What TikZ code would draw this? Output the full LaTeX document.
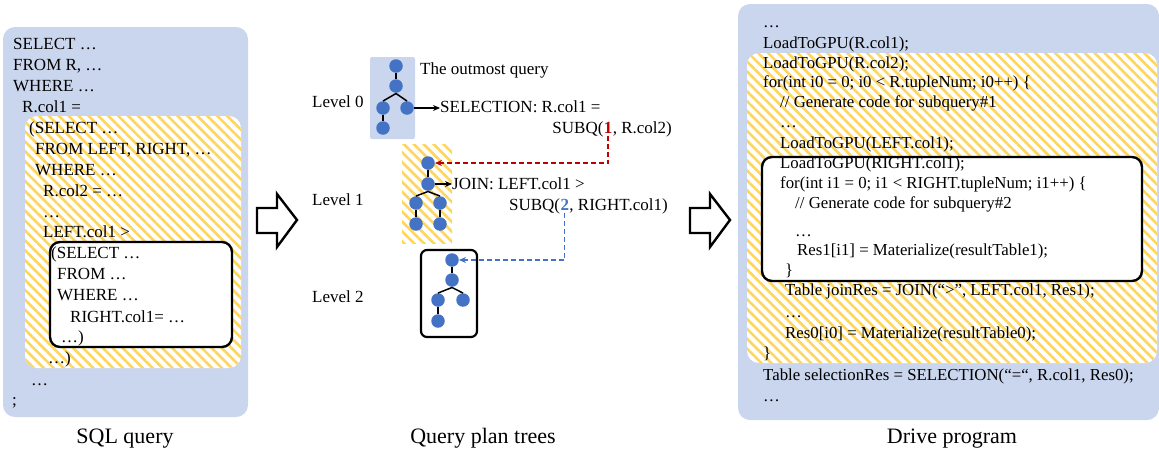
\documentclass[tikz,border=0pt]{standalone}
\usepackage{fontspec}
\setmainfont{Liberation Serif}
\usetikzlibrary{patterns.meta,arrows.meta}
\definecolor{bluebg}{RGB}{202,214,237}
\definecolor{hatch}{RGB}{255,214,92}
\definecolor{treeblue}{RGB}{68,114,196}
\definecolor{darkred}{RGB}{192,0,0}
\tikzset{
  txt/.style={anchor=base west,inner sep=0pt,font=\fontsize{17}{17}\selectfont},
  rtxt/.style={anchor=base west,inner sep=0pt,font=\fontsize{16.8}{17}\selectfont},
  captxt/.style={anchor=base,inner sep=0pt,font=\fontsize{22}{22}\selectfont},
  bluebox/.style={fill=bluebg,draw=none,rounded corners=12pt},
  hatchbox/.style={fill=white,draw=none,rounded corners=12pt},
  hatchfill/.style={pattern={Lines[angle=-45,distance=7pt,line width=2.6pt]},pattern color=hatch},
  blackbox/.style={fill=white,draw=black,line width=2.4pt,rounded corners=10pt},
  tn/.style={circle,fill=treeblue,minimum size=13.5pt,inner sep=0pt},
  te/.style={line width=1.5pt,black},
  blockarrow/.style={draw=black,fill=white,line width=2.4pt,line join=miter},
  ptr/.style={-{Stealth[length=7pt,width=6pt]},line width=1.5pt},
  dptr/.style={line width=1.3pt,dash pattern=on 5pt off 3pt,-{Stealth[length=7pt,width=6pt]}},
}
\begin{document}
\begin{tikzpicture}[x=1pt,y=-1pt]
\useasboundingbox (0,0) rectangle (1159,453);

% ---------- Left: SQL query ----------
\path[bluebox] (3,27) rectangle (248,417);
\path[hatchbox] (25,116) rectangle (241,368);
\path[hatchfill,rounded corners=12pt] (25,116) rectangle (241,368);
\path[blackbox] (50,242) rectangle (232,347);

\node[txt] (l1) at (13,49.5) {SELECT …};
\node[txt] (l2) at (13,70.5) {FROM R, …};
\node[txt] (l3) at (13,91.5) {WHERE …};
\node[txt] (l4) at (22,112.5) {R.col1 =};
\node[txt] (l5) at (29,133.5) {(SELECT …};
\node[txt] (l6) at (35,154.5) {FROM LEFT, RIGHT, …};
\node[txt] (l7) at (35,175.5) {WHERE …};
\node[txt] (l8) at (43,196.5) {R.col2 = …};
\node[txt] (l9) at (43,217) {…};
\node[txt] (l10) at (43,237.5) {LEFT.col1 >};
\node[txt] (l11) at (51,258) {(SELECT …};
\node[txt] (l12) at (57,279) {FROM …};
\node[txt] (l13) at (57,300) {WHERE …};
\node[txt] (l14) at (70,322) {RIGHT.col1= …};
\node[txt] (l15) at (61,342) {…)};
\node[txt] (l16) at (48,363) {…)};
\node[txt] (l17) at (31,385) {…};
\node[txt] (l18) at (12,405) {;};
\node[captxt] (c1) at (125,443) {SQL query};

% ---------- block arrows ----------
\draw[blockarrow] (257,208) -- (277,208) -- (277,194) -- (297,220) -- (277,247) -- (277,233) -- (257,233) -- cycle;
\draw[blockarrow] (690,208) -- (710,208) -- (710,194) -- (730,220) -- (710,247) -- (710,233) -- (690,233) -- cycle;

% ---------- Middle: query plan trees ----------
\node[txt] (lv0) at (312,107.5) {Level 0};
\node[txt] (lv1) at (312,205.5) {Level 1};
\node[txt] (lv2) at (312,302.5) {Level 2};

% Level 0
\path[fill=bluebg,rounded corners=2pt] (370,57) rectangle (415,139);
\node[tn] (a1) at (396,66) {};
\node[tn] (a2) at (396,86) {};
\node[tn] (a3) at (383,108) {};
\node[tn] (a4) at (407,108) {};
\node[tn] (a5) at (383,128) {};
\coordinate (aj) at (396,93.5);
\draw[te] (a1) -- (a2);
\draw[te] (a3.north) -- (aj) -- (a4.north);
\draw[te] (a3) -- (a5);
\node[txt] (toq) at (420,74.5) {The outmost query};
\node[txt] (sel) at (440,112.5) {SELECTION: R.col1 =};
\node[txt,anchor=base east] (s1c) at (672,133.5) {, R.col2)};
\node[txt,anchor=base east,text=darkred,font=\fontsize{17}{17}\selectfont\bfseries] (s1n) at (s1c.base west) {1};
\node[txt,anchor=base east] (s1a) at (s1n.base west) {SUBQ(};
\draw[ptr] (a4.east) -- (sel.west |- a4);

% Level 1
\path[fill=white] (402,144) rectangle (452,243);
\path[hatchfill] (402,144) rectangle (452,243);
\node[tn] (b1) at (428,163) {};
\node[tn] (b2) at (428,184) {};
\node[tn] (b3) at (416,203) {};
\node[tn] (b4) at (440,203) {};
\node[tn] (b5) at (416,224) {};
\node[tn] (b6) at (440,224) {};
\coordinate (bj) at (428,191.5);
\draw[te] (b1) -- (b2);
\draw[te] (b3.north) -- (bj) -- (b4.north);
\draw[te] (b3) -- (b5);
\draw[te] (b4) -- (b6);
\node[txt] (join) at (452,189.5) {JOIN: LEFT.col1 >};
\node[txt,anchor=base east] (s2c) at (668,210.5) {, RIGHT.col1)};
\node[txt,anchor=base east,text=treeblue,font=\fontsize{17}{17}\selectfont\bfseries] (s2n) at (s2c.base west) {2};
\node[txt,anchor=base east] (s2a) at (s2n.base west) {SUBQ(};
\draw[ptr] (b2.east) -- (join.west |- b2);

% Level 2
\path[blackbox,line width=2.2pt,rounded corners=6pt] (421,250) rectangle (477,337);
\node[tn] (c1n) at (452,260) {};
\node[tn] (c2n) at (452,280) {};
\node[tn] (c3n) at (438,300) {};
\node[tn] (c4n) at (463,300) {};
\node[tn] (c5n) at (438,321) {};
\coordinate (cj) at (452,287.5);
\draw[te] (c1n) -- (c2n);
\draw[te] (c3n.north) -- (cj) -- (c4n.north);
\draw[te] (c3n) -- (c5n);

% dashed pointers
\coordinate (r0) at ([yshift=-2pt]s1n.base);
\coordinate (r1) at (r0 |- b1);
\draw[dptr,darkred] (r0) -- (r1) -- (b1.east);
\coordinate (q0) at ([yshift=-2pt]s2n.base);
\coordinate (q1) at (q0 |- c1n);
\draw[dptr,treeblue] (q0) -- (q1) -- (c1n.east);

\node[captxt] (c2) at (483,443) {Query plan trees};

% ---------- Right: drive program ----------
\path[bluebox] (738,4) rectangle (1159,420);
\path[hatchbox] (747,53) rectangle (1157,363);
\path[hatchfill,rounded corners=12pt] (747,53) rectangle (1157,363);
\path[blackbox] (762,157) rectangle (1142,281);

\node[rtxt] (p1) at (763,27) {…};
\node[rtxt] (p2) at (763,48.5) {LoadToGPU(R.col1);};
\node[rtxt] (p3) at (763,68.5) {LoadToGPU(R.col2);};
\node[rtxt] (p4) at (763,87.5) {for(int i0 = 0; i0 < R.tupleNum; i0++) \{};
\node[rtxt] (p5) at (780,107.5) {// Generate code for subquery\#1};
\node[rtxt] (p6) at (780,127) {…};
\node[rtxt] (p7) at (780,148.5) {LoadToGPU(LEFT.col1);};
\node[rtxt] (p8) at (780,168.5) {LoadToGPU(RIGHT.col1);};
\node[rtxt] (p9) at (780,188.5) {for(int i1 = 0; i1 < RIGHT.tupleNum; i1++) \{};
\node[rtxt] (p10) at (795,208.5) {// Generate code for subquery\#2};
\node[rtxt] (p11) at (795,236) {…};
\node[rtxt] (p12) at (797,255.5) {Res1[i1] = Materialize(resultTable1);};
\node[rtxt] (p13) at (785,275.5) {\}};
\node[rtxt] (p14) at (785,295.5) {Table joinRes = JOIN(“>”, LEFT.col1, Res1);};
\node[rtxt] (p15) at (785,317) {…};
\node[rtxt] (p16) at (785,338.5) {Res0[i0] = Materialize(resultTable0);};
\node[rtxt] (p17) at (763,358.5) {\}};
\node[rtxt] (p18) at (763,380.5) {Table selectionRes = SELECTION(“=“, R.col1, Res0);};
\node[rtxt] (p19) at (763,401) {…};
\node[captxt] (c3) at (952,443) {Drive program};
\end{tikzpicture}
\end{document}
